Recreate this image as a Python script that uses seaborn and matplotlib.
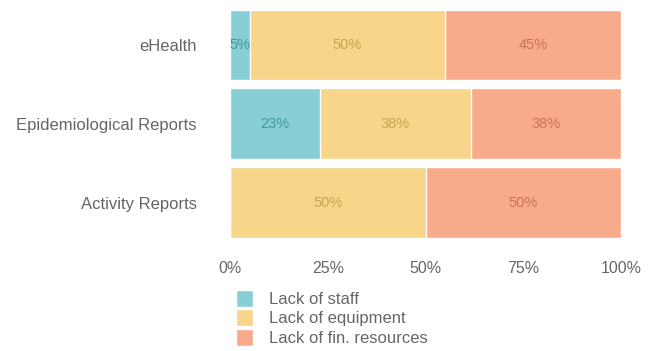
import numpy as np
import pandas as pd
import seaborn as sns
import matplotlib.pyplot as plt

categories = ["eHealth", "Epidemiological Reports", "Activity Reports"]
series_names = ["Lack of staff", "Lack of equipment", "Lack of fin. resources"]
staff = [5.0, 23.08, 0.0]
equipment = [50.0, 38.46, 50.0]
fin_resources = [45.0, 38.46, 50.0]
tick_values = [0, 25, 50, 75, 100]
tick_labels = ["0%", "25%", "50%", "75%", "100%"]

colors = ["#87CFD4", "#F7D58B", "#F8AB8B"]
text_colors = ["#3E9AA0", "#C8A54E", "#C8745A"]

sns.set_style("white")
plt.rcParams['font.family'] = ['Liberation Sans', 'DejaVu Sans']

fig = plt.figure(figsize=(6.6, 3.51), dpi=100)
ax = fig.add_axes([0.3485, 0.3105, 0.5925, 0.6735])

series = [staff, equipment, fin_resources]
cum = np.cumsum(np.array(series), axis=0)

# stacked look: draw cumulative totals from the widest down
for i in range(len(series) - 1, -1, -1):
    df = pd.DataFrame({"cat": categories, "val": cum[i]})
    sns.barplot(data=df, x="val", y="cat", order=categories, color=colors[i],
                width=0.9, saturation=1, ax=ax, label=series_names[i])

# labels in the middle of each segment
for i, vals in enumerate(series):
    start = cum[i] - np.array(vals)
    for j, v in enumerate(vals):
        if v > 0:
            ax.text(start[j] + v / 2, j, f"{v:.0f}%", ha="center", va="center",
                    fontsize=10.5, color=text_colors[i])

ax.set_xlim(0, 100)
ax.set_ylim(2.5, -0.5)
ax.set_xticks(tick_values)
ax.set_xticklabels(tick_labels)
ax.set_xlabel("")
ax.set_ylabel("")
ax.tick_params(axis="x", length=0, pad=14, labelsize=11.5, labelcolor="#666666")
ax.tick_params(axis="y", length=0, pad=24, labelsize=12, labelcolor="#666666")
sns.despine(ax=ax, left=True, bottom=True)

handles, labels = ax.get_legend_handles_labels()
order = [labels.index(n) for n in series_names]
ax.legend([handles[k] for k in order], series_names, loc="upper left",
          bbox_to_anchor=(0.3576, 0.174), bbox_transform=fig.transFigure,
          frameon=False, fontsize=12, labelcolor="#666666",
          handlelength=1.0, handleheight=1.2, handletextpad=0.95,
          labelspacing=0.13, borderpad=0, borderaxespad=0)

fig.savefig("out.png", dpi=100)
